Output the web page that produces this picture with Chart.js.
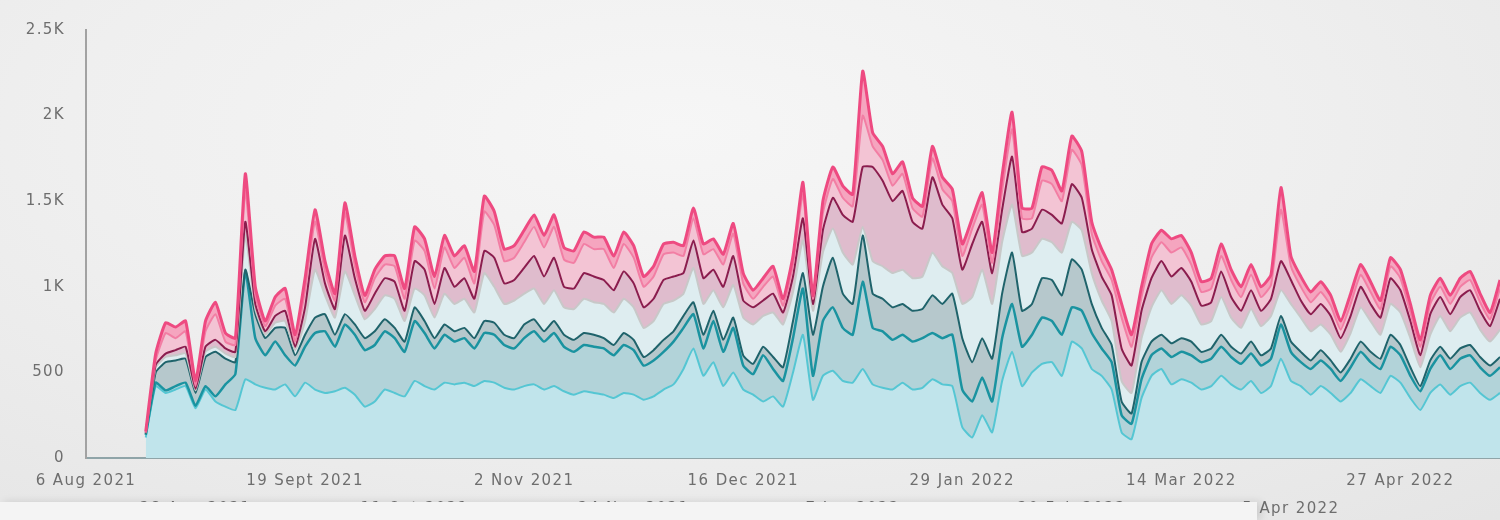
<!DOCTYPE html>
<html>
<head>
<meta charset="utf-8">
<title>Daily volume, Aug 2021 - May 2022</title>
<script src="https://cdn.jsdelivr.net/npm/chart.js@4.4.0/dist/chart.umd.min.js"></script>
<style>
  html, body { margin: 0; padding: 0; }
  body {
    width: 1500px; height: 520px; overflow: hidden; position: relative;
    background: radial-gradient(ellipse 90% 110% at 45% 25%, #f6f6f6 0%, #efefef 45%, #e3e3e3 100%);
  }
  #chart { position: absolute; left: 0; top: 0; filter: blur(0.4px); }
  /* light strip that hides most of the second row of dates */
  .shelf {
    position: absolute; left: 0; top: 502px; width: 1257px; height: 18px;
    background: #f4f4f4; box-shadow: 4px 0 8px rgba(0, 0, 0, 0.12);
  }
</style>
</head>
<body>
<canvas id="chart" width="1500" height="520"></canvas>
<div class="shelf"></div>
<script>
// Stacked daily series, sampled every 2 days from 6 Aug 2021
// Each array is the level of one line (bottom to top), read off the picture

const tickLabels = ['6 Aug 2021', '28 Aug 2021', '19 Sept 2021', '11 Oct 2021', '2 Nov 2021',
    '24 Nov 2021', '16 Dec 2021', '7 Jan 2022', '29 Jan 2022', '20 Feb 2022',
    '14 Mar 2022', '5 Apr 2022', '27 Apr 2022'];

const cyanLine = [null, null, null, null, null, null,
    120, 420, 380, 400, 420, 290, 400, 330, 300, 280,
    460, 430, 410, 400, 430, 360, 440, 400, 380, 390,
    410, 370, 300, 330, 400, 380, 360, 450, 420, 400,
    440, 430, 440, 420, 450, 440, 410, 400, 420, 430,
    400, 420, 390, 370, 390, 380, 370, 350, 380, 370,
    340, 360, 400, 430, 520, 640, 480, 560, 420, 500,
    400, 370, 330, 360, 300, 500, 720, 340, 480, 510,
    450, 440, 520, 430, 410, 400, 440, 400, 410, 460,
    430, 420, 180, 120, 250, 150, 450, 620, 420, 500,
    550, 560, 480, 680, 640, 520, 480, 400, 150, 110,
    350, 480, 520, 430, 460, 440, 400, 420, 480, 430,
    400, 450, 380, 420, 580, 450, 420, 370, 420, 380,
    330, 380, 460, 420, 380, 480, 440, 350, 280, 380,
    430, 370, 420, 440, 380, 340, 380];

const tealLine = [null, null, null, null, null, null,
    135, 440, 395, 420, 440, 305, 420, 360, 430, 490,
    1090, 700, 600, 680, 600, 540, 650, 730, 740, 650,
    780, 720, 630, 660, 740, 700, 620, 800, 730, 640,
    720, 680, 700, 640, 730, 720, 660, 640, 700, 740,
    680, 730, 650, 620, 660, 650, 640, 600, 660, 630,
    540, 570, 620, 680, 760, 840, 640, 800, 620, 760,
    540, 490, 600, 520, 450, 700, 990, 480, 800, 880,
    760, 720, 1030, 760, 740, 690, 720, 680, 700, 730,
    700, 720, 400, 330, 470, 330, 700, 900, 650, 720,
    820, 800, 720, 880, 860, 730, 640, 560, 250, 200,
    460, 600, 640, 590, 620, 600, 560, 580, 650, 590,
    550, 610, 540, 580, 780, 620, 560, 520, 570, 520,
    450, 530, 620, 560, 520, 650, 600, 480, 390, 520,
    600, 520, 580, 600, 530, 480, 530];

const darkTealLine = [null, null, null, null, null, null,
    140, 500, 560, 570, 580, 380, 590, 620, 580, 560,
    1100, 840, 700, 760, 760, 600, 720, 820, 840, 720,
    840, 780, 700, 740, 810, 760, 680, 880, 800, 700,
    780, 740, 760, 700, 800, 790, 720, 700, 780, 810,
    740, 800, 720, 690, 730, 720, 700, 660, 730, 690,
    590, 630, 690, 740, 830, 910, 720, 860, 690, 820,
    600, 550, 650, 590, 530, 800, 1080, 720, 1000, 1170,
    960, 900, 1300, 960, 930, 880, 900, 860, 870, 950,
    900, 960, 700, 560, 700, 580, 960, 1200, 860, 900,
    1050, 1040, 950, 1160, 1100, 900, 760, 660, 330, 260,
    560, 680, 720, 670, 700, 680, 620, 640, 720, 650,
    610, 680, 600, 640, 830, 680, 620, 570, 630, 570,
    500, 580, 680, 620, 580, 720, 660, 530, 420, 570,
    650, 580, 640, 660, 590, 540, 590];

const greyLine = [null, null, null, null, null, null,
    145, 530, 590, 600, 610, 395, 620, 650, 610, 590,
    1300, 870, 720, 790, 800, 630, 800, 1100, 950, 820,
    1090, 950, 810, 870, 950, 930, 800, 990, 950, 820,
    960, 900, 930, 850, 1080, 1000, 900, 920, 960, 990,
    900, 980, 880, 870, 930, 910, 900, 850, 930, 880,
    760, 800, 900, 920, 960, 1110, 900, 980, 880, 1010,
    820, 780, 830, 850, 780, 970, 1270, 860, 1200, 1340,
    1200, 1130, 1350, 1150, 1120, 1080, 1100, 1050, 1060, 1200,
    1120, 1080, 900, 940, 1100, 900, 1260, 1480, 1180, 1200,
    1280, 1260, 1200, 1380, 1330, 1080, 920, 800, 450, 380,
    700, 880, 980, 900, 950, 890, 780, 800, 940, 820,
    760, 870, 770, 830, 980, 900, 820, 740, 780, 720,
    620, 730, 880, 800, 720, 900, 850, 700, 530, 720,
    830, 740, 820, 850, 750, 680, 750];

const maroonLine = [null, null, null, null, null, null,
    148, 545, 610, 630, 650, 405, 650, 690, 640, 620,
    1380, 900, 740, 830, 860, 650, 880, 1280, 1020, 870,
    1300, 1050, 860, 960, 1050, 1030, 860, 1150, 1100, 900,
    1110, 1000, 1050, 930, 1210, 1170, 1020, 1040, 1110, 1180,
    1060, 1170, 1000, 990, 1080, 1060, 1040, 980, 1090, 1020,
    880, 930, 1040, 1060, 1080, 1270, 1050, 1100, 1000, 1180,
    920, 880, 920, 960, 850, 1060, 1400, 900, 1330, 1520,
    1420, 1380, 1700, 1700, 1620, 1500, 1560, 1380, 1340, 1640,
    1480, 1400, 1100, 1250, 1380, 1080, 1450, 1760, 1320, 1340,
    1450, 1420, 1370, 1600, 1520, 1220, 1060, 950, 640, 540,
    860, 1050, 1150, 1060, 1110, 1030, 890, 910, 1090, 940,
    860, 980, 860, 930, 1150, 1040, 920, 840, 900, 830,
    700, 830, 1000, 900, 820, 1050, 980, 800, 600, 840,
    940, 840, 940, 980, 860, 770, 930];

const pinkMidLine = [null, null, null, null, null, null,
    150, 570, 730, 700, 740, 420, 740, 840, 680, 660,
    1560, 950, 770, 890, 930, 680, 980, 1380, 1090, 920,
    1430, 1120, 910, 1050, 1130, 1120, 930, 1270, 1210, 990,
    1230, 1110, 1170, 1020, 1440, 1360, 1150, 1170, 1260, 1350,
    1230, 1350, 1160, 1140, 1250, 1220, 1220, 1110, 1250, 1170,
    1000, 1060, 1190, 1200, 1180, 1400, 1190, 1220, 1130, 1310,
    1020, 930, 1000, 1060, 890, 1130, 1540, 930, 1430, 1630,
    1520, 1470, 2000, 1820, 1740, 1590, 1660, 1460, 1410, 1750,
    1570, 1500, 1180, 1340, 1480, 1140, 1560, 1920, 1400, 1400,
    1620, 1600, 1500, 1800, 1710, 1310, 1150, 1040, 820, 650,
    940, 1170, 1260, 1200, 1230, 1130, 970, 990, 1180, 1040,
    940, 1070, 940, 1010, 1450, 1120, 1000, 910, 970, 890,
    750, 900, 1070, 970, 870, 1120, 1050, 850, 650, 900,
    1000, 900, 1000, 1040, 910, 810, 990];

const pinkTopLine = [null, null, null, null, null, null,
    155, 610, 790, 765, 800, 450, 800, 910, 730, 700,
    1660, 1000, 800, 940, 990, 720, 1050, 1450, 1150, 960,
    1490, 1180, 950, 1100, 1180, 1180, 990, 1350, 1280, 1060,
    1300, 1180, 1240, 1090, 1530, 1440, 1220, 1240, 1330, 1420,
    1300, 1420, 1230, 1210, 1320, 1290, 1290, 1180, 1320, 1240,
    1060, 1120, 1250, 1260, 1240, 1460, 1250, 1280, 1190, 1370,
    1080, 980, 1050, 1120, 930, 1180, 1610, 950, 1500, 1700,
    1590, 1540, 2260, 1900, 1820, 1660, 1730, 1520, 1470, 1820,
    1640, 1570, 1250, 1400, 1550, 1200, 1650, 2020, 1460, 1460,
    1700, 1680, 1560, 1880, 1790, 1380, 1220, 1100, 900, 720,
    1000, 1250, 1330, 1280, 1300, 1200, 1030, 1050, 1250, 1100,
    1000, 1130, 1000, 1070, 1580, 1180, 1060, 970, 1030, 950,
    800, 960, 1130, 1030, 920, 1170, 1100, 900, 690, 950,
    1050, 950, 1050, 1090, 960, 850, 1040];

// Category axis: one entry every 2 days, ticks every 22 days (11 steps)
const startDate = new Date(2021, 7, 6);
const stepDays = 2;
const tickEvery = 11;
const dayLabels = cyanLine.map(function(_, i) {
    const d = new Date(startDate);
    d.setDate(d.getDate() + i * stepDays);
    return d.toISOString().slice(0, 10);
});

function band(label, data, lineColor, fillColor, width, fill, order) {
    return {
        label: label,
        data: data,
        borderColor: lineColor,
        backgroundColor: fillColor,
        borderWidth: width,
        fill: fill,
        order: order,
        pointRadius: 0,
        tension: 0.15
    };
}

// Montserrat-like wide lettering for the axis text
const letterSpacing = {
    id: 'letterSpacing',
    beforeUpdate(chart) { chart.ctx.letterSpacing = '1.4px'; },
    beforeDraw(chart) { chart.ctx.letterSpacing = '1.4px'; }
};

document.addEventListener('DOMContentLoaded', function() {
    const axisFont = { family: 'DejaVu Sans', size: 15 };

    new Chart(document.getElementById('chart'), {
        type: 'line',
        data: {
            labels: dayLabels,
            datasets: [
                band('Cyan', cyanLine, '#55c6d3', '#c0e4eb', 2, 'origin', 6),
                band('Teal', tealLine, '#1a93a0', '#b2d3d9', 2.5, '-1', 5),
                band('Dark teal', darkTealLine, '#1f636b', '#b6c8cc', 2, '-1', 4),
                band('Grey', greyLine, '#c8c8c8', '#deedf0', 2, '-1', 3),
                band('Maroon', maroonLine, '#8b1d4e', '#dfbccd', 2, '-1', 2),
                band('Pink', pinkMidLine, '#f27ea4', '#f3c4d4', 2, '-1', 1),
                band('Hot pink', pinkTopLine, '#ee4a81', '#f5a5bf', 3, '-1', 0)
            ]
        },
        options: {
            responsive: false,
            animation: false,
            layout: { padding: { top: 28, right: 0, bottom: 0, left: 0 } },
            plugins: {
                legend: { display: false },
                tooltip: { enabled: false },
                filler: { drawTime: 'beforeDatasetsDraw' }
            },
            scales: {
                x: {
                    type: 'category',
                    grid: { display: false, drawTicks: false },
                    border: { display: true, color: '#8fa4a8', width: 2 },
                    ticks: {
                        autoSkip: false,
                        maxRotation: 0,
                        minRotation: 0,
                        padding: 9,
                        color: '#6e6e6e',
                        font: Object.assign({ lineHeight: '28px' }, axisFont),
                        callback: function(value, index) {
                            if (index % tickEvery !== 0) return '';
                            const k = index / tickEvery;
                            if (k >= tickLabels.length) return '';
                            // odd ticks go on the second row
                            return k % 2 === 0 ? tickLabels[k] : ['', tickLabels[k]];
                        }
                    },
                    afterFit: function(scale) {
                        scale.height = 62;
                        scale.paddingRight = 0;
                    }
                },
                y: {
                    min: 0,
                    max: 2500,
                    grid: { display: false, drawTicks: false },
                    border: { display: true, color: '#a2a2a2', width: 2 },
                    ticks: {
                        stepSize: 500,
                        padding: 21,
                        color: '#6e6e6e',
                        font: axisFont,
                        callback: function(v) { return v >= 1000 ? (v / 1000) + 'K' : v; }
                    },
                    afterFit: function(scale) { scale.width = 86; }
                }
            }
        },
        plugins: [letterSpacing]
    });
});
</script>
</body>
</html>
